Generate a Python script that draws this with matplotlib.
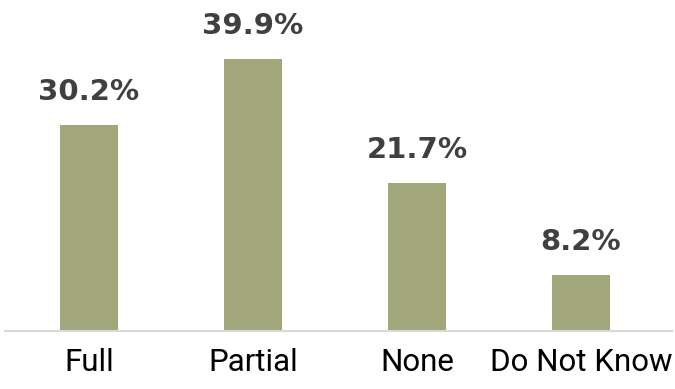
import matplotlib
matplotlib.use("Agg")
import matplotlib.pyplot as plt

categories = ["Full", "Partial", "None", "Do Not Know"]
values = [30.2, 39.9, 21.7, 8.2]
value_labels = ["30.2%", "39.9%", "21.7%", "8.2%"]

fig = plt.figure(figsize=(6.75, 3.89), dpi=100)
ax = fig.add_axes([5/675, 1 - 331/389, 667/675, 331/389])
x = list(range(len(categories)))
bars = ax.bar(x, values, width=0.354, color="#A2A77B")
ax.set_xlim(-0.512, 3.555)
ax.set_ylim(0, 48.5)
for s in ["top", "left", "right"]:
    ax.spines[s].set_visible(False)
ax.spines["bottom"].set_color("#D9D9D9")
ax.spines["bottom"].set_linewidth(1.5)
ax.set_yticks([])
ax.set_xticks(x)
ax.set_xticklabels(categories, fontsize=22.5, family=["Roboto", "DejaVu Sans"], color="black")
ax.tick_params(axis="x", length=0, pad=12)
for xi, v, lab in zip(x, values, value_labels):
    ax.annotate(lab, (xi, v), xytext=(0, 13.5), textcoords="offset points",
                ha="center", va="bottom", fontsize=21, fontweight="bold", color="#404040")
fig.savefig("out.png", dpi=100)
